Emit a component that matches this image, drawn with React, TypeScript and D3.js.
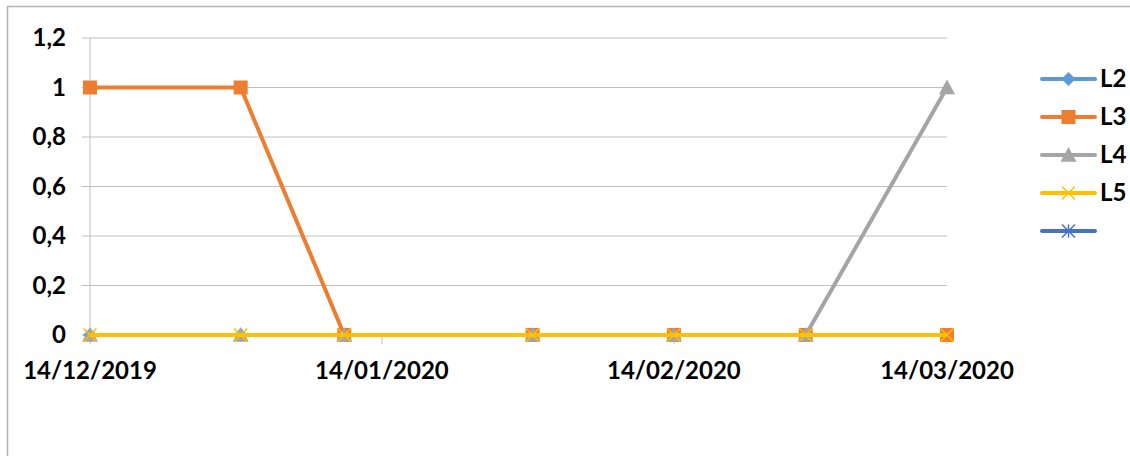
import React from "react";
import * as d3 from "d3";

const dates = ["2019-12-14", "2019-12-30", "2020-01-10", "2020-01-30", "2020-02-14", "2020-02-28", "2020-03-14"];
const seriesNames = ["L2", "L3", "L4", "L5", ""];
const L2 = [0, 0, 0, 0, 0, 0, 0];
const L3 = [1, 1, 0, 0, 0, 0, 0];
const L4 = [0, 0, 0, 0, 0, 0, 1];
const L5 = [0, 0, 0, 0, 0, 0, 0];
const S5: number[] = [];
const xTickDates = ["2019-12-14", "2020-01-14", "2020-02-14", "2020-03-14"];
const yTicks = [0, 0.2, 0.4, 0.6, 0.8, 1, 1.2];

const colors = ["#5B9BD5", "#ED7D31", "#A5A5A5", "#FFC000", "#4472C4"];
const markers = ["diamond", "square", "triangle", "x", "star"];
const seriesValues = [L2, L3, L4, L5, S5];

const W = 1130;
const H = 456;
const FONT = "Lato, 'Open Sans', sans-serif";
const FS = 24;

const parse = (s: string) => new Date(s + "T00:00:00Z");

function Marker({ type, x, y, color }: { type: string; x: number; y: number; color: string }) {
  if (type === "diamond") {
    const r = 7;
    return <path d={`M${x},${y - r}L${x + r},${y}L${x},${y + r}L${x - r},${y}Z`} fill={color} />;
  }
  if (type === "square") {
    const r = 7;
    return <rect x={x - r} y={y - r} width={2 * r} height={2 * r} fill={color} />;
  }
  if (type === "triangle") {
    const r = 8;
    return <path d={`M${x},${y - r}L${x + r},${y + r * 0.85}L${x - r},${y + r * 0.85}Z`} fill={color} />;
  }
  if (type === "x") {
    const r = 6.5;
    return (
      <path d={`M${x - r},${y - r}L${x + r},${y + r}M${x - r},${y + r}L${x + r},${y - r}`} stroke={color} strokeWidth={1.5} />
    );
  }
  const r = 6.5;
  return (
    <path
      d={`M${x - r},${y - r}L${x + r},${y + r}M${x - r},${y + r}L${x + r},${y - r}M${x},${y - r}L${x},${y + r}`}
      stroke={color}
      strokeWidth={1.5}
    />
  );
}

export default function App() {
  const x = d3.scaleUtc().domain([parse("2019-12-14"), parse("2020-03-14")]).range([90, 947]);
  const y = d3.scaleLinear().domain([0, 1.2]).range([335, 38]);
  const fmtDate = d3.utcFormat("%d/%m/%Y");
  const fmtY = (v: number) => d3.format("~g")(v).replace(".", ",");
  const line = d3
    .line<[Date, number]>()
    .x((d) => x(d[0]))
    .y((d) => y(d[1]));

  const legendY = [79, 117, 155, 193, 231];

  return (
    <svg width={W} height={H} style={{ position: "absolute", left: 0, top: 0, background: "#fff" }}>
      <rect x={0} y={0} width={W} height={H} fill="#fff" />
      {/* chart border */}
      <rect x={7.5} y={6.5} width={W + 10} height={H + 10} fill="none" stroke="#B3B3B3" strokeWidth={1.5} />
      {/* gridlines */}
      {yTicks.map((t) => (
        <line key={t} x1={82} x2={947} y1={y(t)} y2={y(t)} stroke="#BFBFBF" strokeWidth={1} />
      ))}
      {/* y axis */}
      <line x1={90} x2={90} y1={y(1.2)} y2={y(0) + 5} stroke="#BFBFBF" strokeWidth={1} />
      {/* x ticks */}
      {xTickDates.map((d) => (
        <line key={d} x1={x(parse(d))} x2={x(parse(d))} y1={y(0)} y2={y(0) + 9} stroke="#BFBFBF" strokeWidth={1} />
      ))}
      {/* y tick labels */}
      {yTicks.map((t) => (
        <text key={t} x={66} y={y(t)} dy="0.35em" textAnchor="end" fontFamily={FONT} fontWeight={700} fontSize={FS} fill="#000">
          {fmtY(t)}
        </text>
      ))}
      {/* x tick labels */}
      {xTickDates.map((d) => (
        <text key={d} x={x(parse(d))} y={371} dy="0.35em" textAnchor="middle" fontFamily={FONT} fontWeight={700} fontSize={FS} fill="#000">
          {fmtDate(parse(d))}
        </text>
      ))}
      {/* series */}
      {seriesValues.map((vals, si) => {
        const pts: [Date, number][] = vals.map((v, i) => [parse(dates[i]), v]);
        return (
          <g key={si}>
            {pts.length > 0 && (
              <path d={line(pts) || ""} fill="none" stroke={colors[si]} strokeWidth={4} strokeLinejoin="round" />
            )}
            {pts.map((p, i) => (
              <Marker key={i} type={markers[si]} x={x(p[0])} y={y(p[1])} color={colors[si]} />
            ))}
          </g>
        );
      })}
      {/* legend */}
      {seriesNames.map((name, i) => (
        <g key={i}>
          <line x1={1042} x2={1095} y1={legendY[i]} y2={legendY[i]} stroke={colors[i]} strokeWidth={4} strokeLinecap="round" />
          <Marker type={markers[i]} x={1068.5} y={legendY[i]} color={colors[i]} />
          <text x={1100} y={legendY[i]} dy="0.35em" fontFamily={FONT} fontWeight={700} fontSize={FS} fill="#000">
            {name}
          </text>
        </g>
      ))}
    </svg>
  );
}
